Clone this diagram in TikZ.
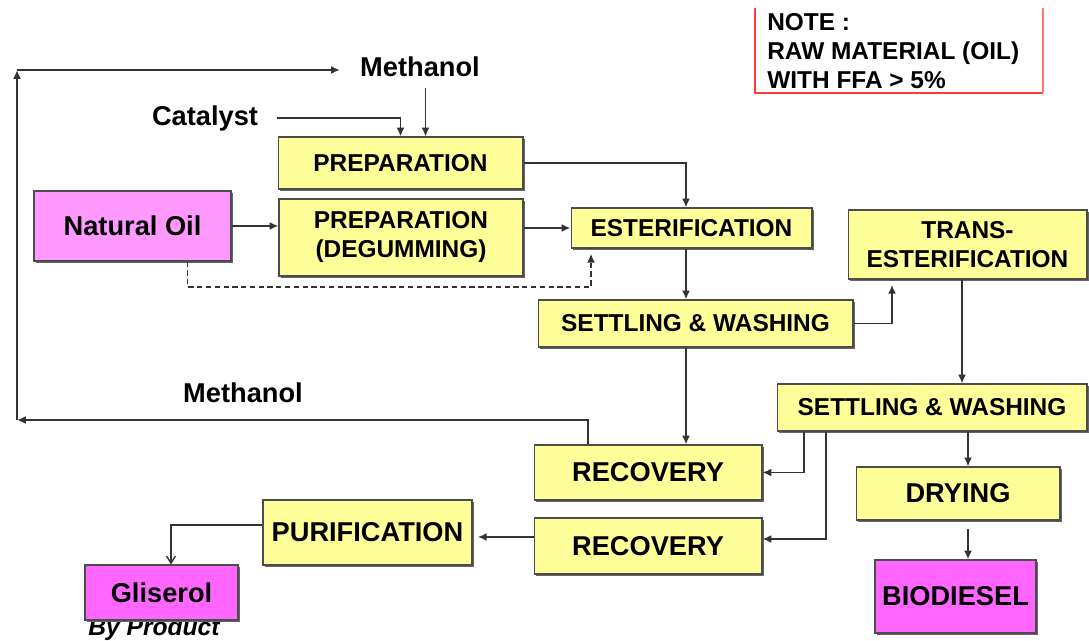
\documentclass[tikz,border=0pt]{standalone}
\usepackage{fontspec}
\setmainfont{Liberation Sans}
\usetikzlibrary{arrows.meta,shadows}
\definecolor{boxyellow}{HTML}{FFFF99}
\definecolor{oilpink}{HTML}{FF99FF}
\definecolor{prodpink}{HTML}{FF66FF}
\definecolor{notered}{HTML}{FF3B3B}
\definecolor{linegray}{HTML}{333333}

\begin{document}
\begin{tikzpicture}[x=0.02cm,y=-0.02cm,
  stepbox/.style={draw=black!70, line width=0.6pt, fill=boxyellow, inner sep=0pt, align=center,
    drop shadow={shadow xshift=0.9pt, shadow yshift=-0.9pt, fill=black!60, opacity=1}},
  small/.style={font=\bfseries\fontsize{13.9}{16.5}\selectfont},
  big/.style={font=\bfseries\fontsize{15.5}{18}\selectfont},
  arr/.style={draw=linegray, line width=1pt, -{Latex[length=5pt,width=4.5pt]}},
  dasharr/.style={arr, line width=0.8pt, dash pattern=on 3pt off 2pt},
  openarr/.style={draw=linegray, line width=0.8pt, -{Straight Barb[length=4pt,width=5pt]}}]
\useasboundingbox (0,0) rectangle (1089,641);

% define the note in the corner
\draw[notered, line width=1.2pt] (755,8) -- (755,93) -- (1043,93);
\draw[notered!70, line width=1pt] (1043,93) -- (1043,8);
\node[small, anchor=north west, align=left, inner sep=0pt] (note) at (767,13)
  {NOTE :\\RAW MATERIAL (OIL)\\WITH FFA > 5\%};

% free labels
\node[big] (meth) at (420,67) {Methanol};
\node[big] (cat) at (205,118) {Catalyst};
\node[big] (meth2) at (243,393) {Methanol};
\node[font=\bfseries\itshape\fontsize{14}{16}\selectfont, inner sep=0pt] (byp) at (154,629) {By Product};

% define the process boxes
\node[stepbox, small, minimum width=4.9cm, minimum height=1.04cm] (prep) at (400.5,163) {PREPARATION};
\node[stepbox, big, fill=oilpink, minimum width=3.94cm, minimum height=1.4cm] (oil) at (132.5,226) {Natural Oil};
\node[stepbox, small, minimum width=4.88cm, minimum height=1.54cm] (degum) at (401,237.5) {PREPARATION\\(DEGUMMING)};
\node[stepbox, small, minimum width=4.82cm, minimum height=0.8cm] (ester) at (691.5,228) {ESTERIFICATION};
\node[stepbox, small, minimum width=4.78cm, minimum height=1.38cm] (trans) at (967.5,244.5) {TRANS-\\ESTERIFICATION};
\node[stepbox, small, minimum width=6.3cm, minimum height=0.94cm] (settle1) at (695.5,323.5) {SETTLING \& WASHING};
\node[stepbox, small, minimum width=6.2cm, minimum height=0.94cm] (settle2) at (932,407.5) {SETTLING \& WASHING};
\node[stepbox, big, minimum width=4.56cm, minimum height=1.1cm] (rec1) at (648,472.5) {RECOVERY};
\node[stepbox, big, minimum width=4.56cm, minimum height=1.12cm] (rec2) at (648,546) {RECOVERY};
\node[stepbox, big, minimum width=4.08cm, minimum height=1.06cm] (drying) at (958,493.5) {DRYING};
\node[stepbox, big, fill=prodpink, minimum width=3.22cm, minimum height=1.46cm] (biod) at (955.5,596.5) {BIODIESEL};
\node[stepbox, big, minimum width=4.18cm, minimum height=1.3cm] (purif) at (367.5,532.5) {PURIFICATION};
\node[stepbox, big, fill=prodpink, minimum width=3.06cm, minimum height=1.1cm] (glis) at (161.5,592.5) {Gliserol};

% columns and corners for the connectors
\coordinate (c1) at (686,0);
\coordinate (c2) at (962,0);
\coordinate (c3) at (804,0);
\coordinate (c4) at (826,0);
\coordinate (c5) at (968,0);
\coordinate (ml) at (17,420);
\coordinate (mt) at (17,70);
\coordinate (mr) at (340,70);
\coordinate (d1) at (591,287);
\coordinate (pm) at ([xshift=0.5cm]prep.north);
\coordinate (r2w) at ([yshift=0.18cm]rec2.west);

% methanol recycled to the top
\draw[arr] ([xshift=-1.2cm]rec1.north) |- (ml);
\draw[arr] (ml) -- (mt);
\draw[arr] (mt) -- (mr);

% feeds
\draw[arr, shorten <=3pt] (meth.south -| pm) -- (pm);
\draw[arr] ([xshift=0.25cm]cat.east) -| (prep.north);
\draw[arr] (prep.east) -| (ester.north -| c1);
\draw[arr] (oil.east) -- (oil.east -| degum.west);
\draw[arr] (ester.west -| degum.east) -- (ester.west);
\draw[dasharr, shorten >=3pt] ([xshift=1.1cm]oil.south) |- (d1) -- (d1 |- ester.south);

% main line
\draw[arr] (ester.south -| c1) -- (settle1.north -| c1);
\draw[arr, shorten >=3pt] (settle1.east) -| ([xshift=-1.51cm]trans.south);
\draw[arr] (trans.south -| c2) -- (settle2.north -| c2);
\draw[arr] (settle1.south -| c1) -- (rec1.north -| c1);
\draw[arr] (settle2.south -| c3) |- (rec1.east);
\draw[arr] (settle2.south -| c4) |- ([yshift=0.14cm]rec2.east);
\draw[arr] (settle2.south -| c5) -- (drying.north -| c5);
\draw[arr, shorten <=5pt] (drying.south -| c5) -- (biod.north -| c5);

% by product
\draw[arr, shorten >=3pt] (r2w) -- (r2w -| purif.east);
\draw[openarr] ([yshift=0.15cm]purif.west) -| ([xshift=0.19cm]glis.north);

\end{tikzpicture}
\end{document}
